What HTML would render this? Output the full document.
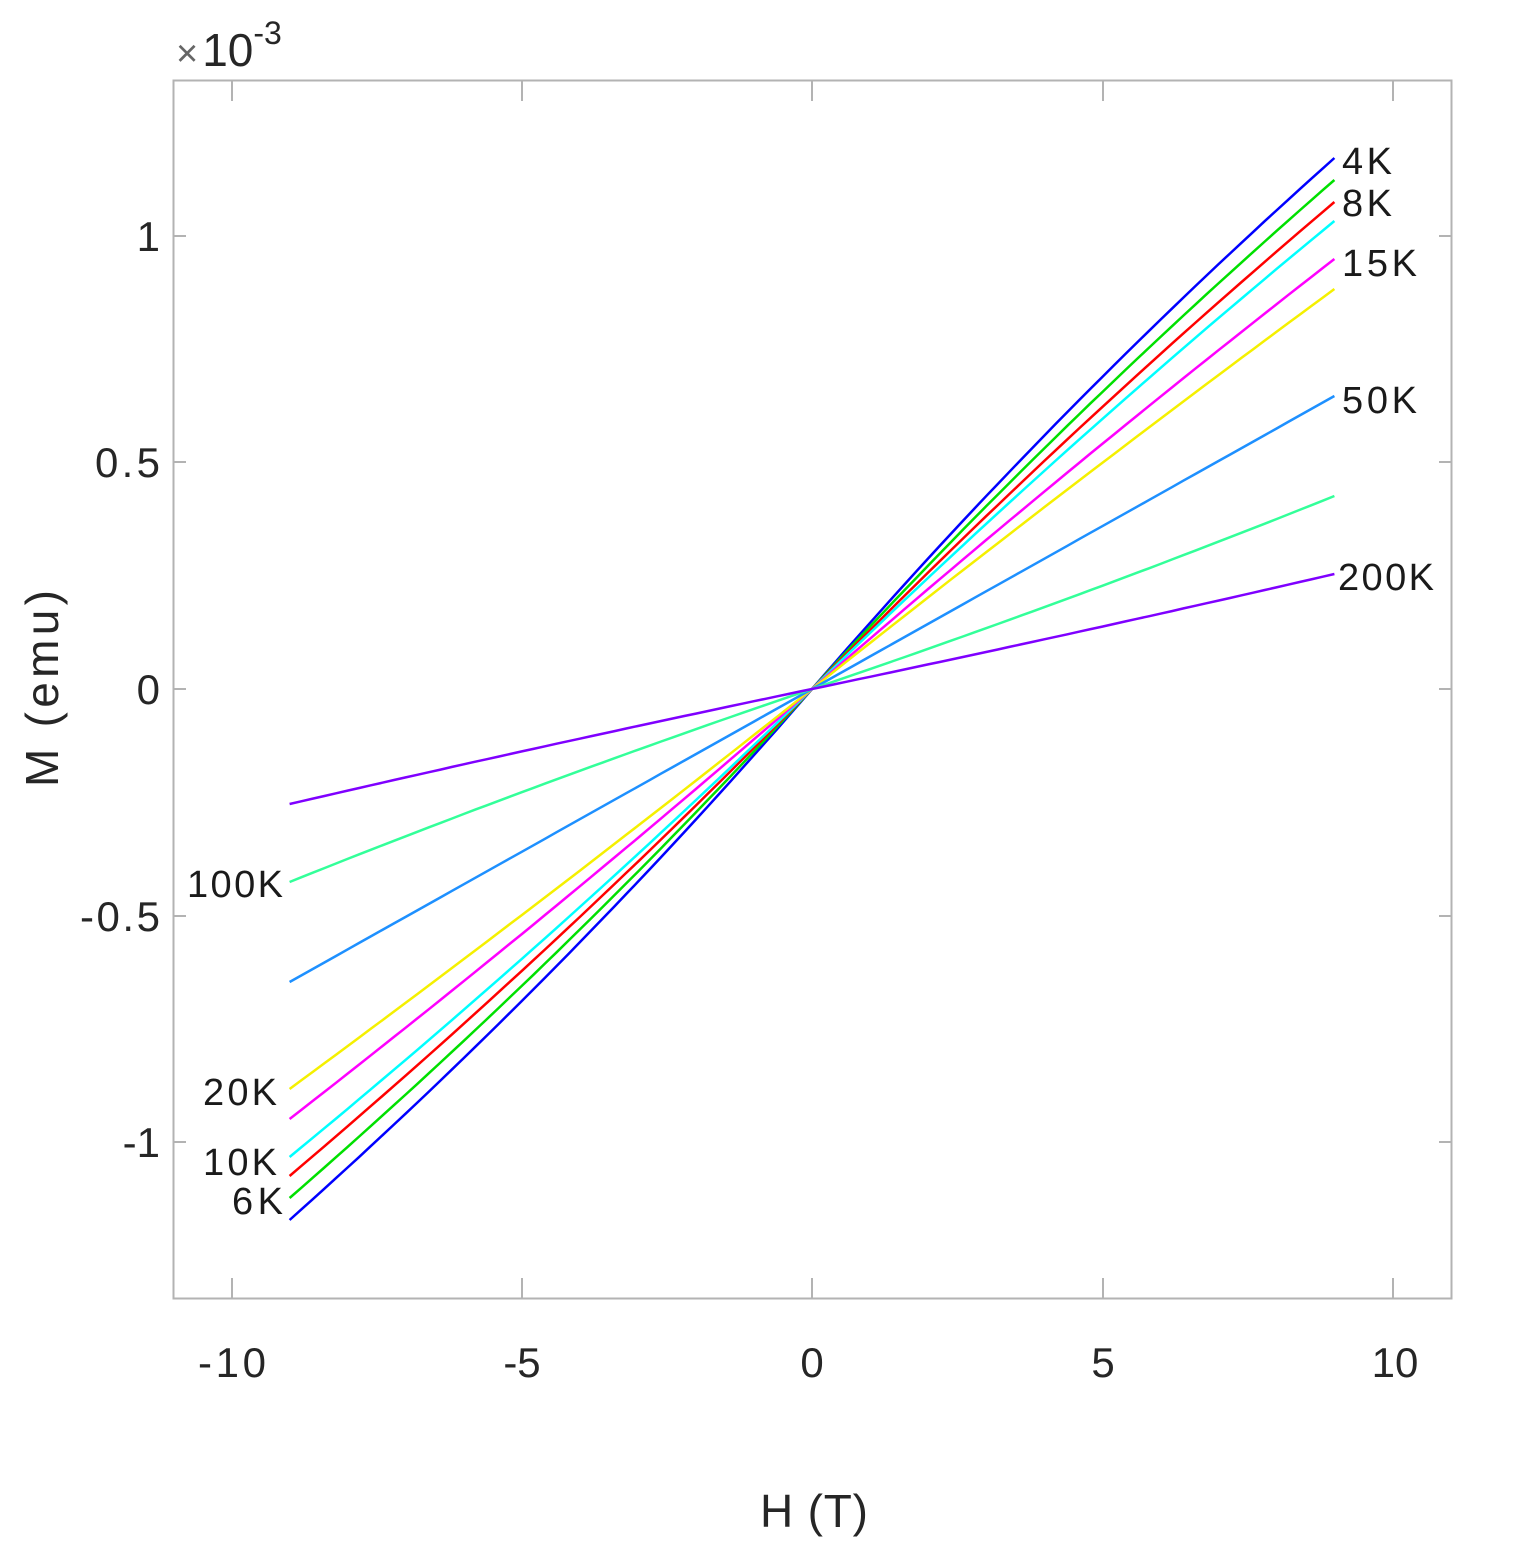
<!DOCTYPE html>
<html><head><meta charset="utf-8"><style>
html,body{margin:0;padding:0;background:#fff;}
svg{display:block;font-family:"Liberation Sans","DejaVu Sans",sans-serif;}
</style></head><body>
<svg id="s" width="1525" height="1554" viewBox="0 0 1525 1554" xmlns="http://www.w3.org/2000/svg">
<rect x="0" y="0" width="1525" height="1554" fill="#fff"/>
<rect x="173.5" y="80.5" width="1278" height="1218" fill="none" stroke="#b3b3b3" stroke-width="2"/>
<g stroke="#b3b3b3" stroke-width="2">
<line x1="232" y1="81" x2="232" y2="101"/><line x1="522" y1="81" x2="522" y2="101"/><line x1="812" y1="81" x2="812" y2="101"/><line x1="1103" y1="81" x2="1103" y2="101"/><line x1="1393" y1="81" x2="1393" y2="101"/>
<line x1="232" y1="1298" x2="232" y2="1278"/><line x1="522" y1="1298" x2="522" y2="1278"/><line x1="812" y1="1298" x2="812" y2="1278"/><line x1="1103" y1="1298" x2="1103" y2="1278"/><line x1="1393" y1="1298" x2="1393" y2="1278"/>
<line x1="174" y1="236" x2="186" y2="236"/><line x1="174" y1="462" x2="186" y2="462"/><line x1="174" y1="689" x2="186" y2="689"/><line x1="174" y1="916" x2="186" y2="916"/><line x1="174" y1="1142" x2="186" y2="1142"/>
<line x1="1451" y1="236" x2="1439" y2="236"/><line x1="1451" y1="462" x2="1439" y2="462"/><line x1="1451" y1="689" x2="1439" y2="689"/><line x1="1451" y1="916" x2="1439" y2="916"/><line x1="1451" y1="1142" x2="1439" y2="1142"/>
</g>
<g fill="#262626" font-size="42" text-anchor="middle">
<text x="232" y="1377" textLength="68">-10</text><text x="522" y="1377">-5</text><text x="812" y="1377">0</text><text x="1103" y="1377">5</text><text x="1395" y="1377">10</text>
</g>
<g fill="#262626" font-size="42" text-anchor="end">
<text x="160" y="251">1</text><text x="160" y="477" textLength="65">0.5</text><text x="160" y="704">0</text><text x="160" y="931" textLength="80">-0.5</text><text x="160" y="1157">-1</text>
</g>
<text x="760" y="1527" font-size="46" fill="#262626" textLength="108">H (T)</text>
<text transform="translate(58,787) rotate(-90)" font-size="46" fill="#262626" textLength="197">M (emu)</text>
<text x="176" y="66" font-size="34" fill="#262626"><tspan fill="#666" font-size="38">×</tspan><tspan font-size="46" dx="4">10</tspan><tspan font-size="32" dy="-22">-3</tspan></text>
<g id="curves" fill="none" stroke-width="2.5"></g>
<g fill="#1a1a1a" font-size="38">
<text x="1342" y="174" textLength="50">4K</text><text x="1342" y="216" textLength="50">8K</text><text x="1342" y="276" textLength="75">15K</text><text x="1342" y="413" textLength="75">50K</text><text x="1338" y="590" textLength="96">200K</text>
<text x="187" y="897" textLength="96">100K</text><text x="203" y="1105" textLength="74">20K</text><text x="203" y="1175" textLength="74">10K</text><text x="232" y="1214" textLength="51">6K</text>
</g>
</svg>
<script>
var defs=[["#0000ff",158,0.14],["#00e000",180,0.12],["#ff0000",202,0.10],["#00ffff",221,0.09],["#ff00ff",259,0.06],["#ffff00",289,0.04],["#1e90ff",396,0.0],["#33ff99",496,-0.08],["#7f00ff",574,-0.05]];
var g=document.getElementById("curves"),ns="http://www.w3.org/2000/svg";
defs.forEach(function(d){
 var m=689-d[1],c=d[2],pts=[];
 for(var i=0;i<=90;i++){var h=-1+i/45;var f=h*(1+c)/(1+c*Math.abs(h));pts.push((812+h*9*58.05).toFixed(1)+","+(689-m*f).toFixed(1));}
 var p=document.createElementNS(ns,"polyline");p.setAttribute("points",pts.join(" "));p.setAttribute("stroke",d[0]);
 if(d[0]=="#ffff00")p.setAttribute("stroke","#f5f000");
 g.appendChild(p);
});
</script>
</body></html>
